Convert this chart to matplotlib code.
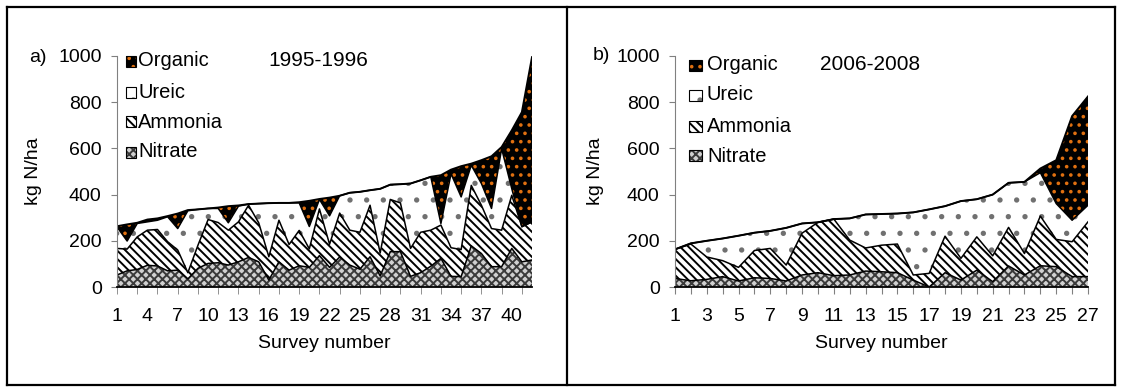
import numpy as np
import matplotlib.pyplot as plt
from matplotlib.patches import Rectangle
from matplotlib.lines import Line2D

plt.rcParams['font.family'] = ['Liberation Sans', 'DejaVu Sans']
plt.rcParams['hatch.linewidth'] = 1.4

W, H = 1122, 387

# panel a: 1995-1996, kg N/ha by nitrogen form, per survey
surveys_a = np.arange(1, 43)
nitrate_a = [52, 70, 76, 94, 91, 70, 73, 35, 81, 102, 105, 95, 109, 128, 109, 30, 109, 73, 92, 85, 136,
             85, 130, 95, 77, 131, 48, 153, 153, 46, 62, 90, 124, 46, 45, 178, 145, 88, 88, 167, 109, 117]
ammonia_a = [115, 94, 141, 152, 158, 126, 87, 27, 100, 190, 174, 151, 173, 226, 169, 101, 180, 111, 153, 80, 202,
             100, 190, 151, 160, 223, 99, 226, 211, 121, 175, 156, 144, 124, 117, 262, 209, 165, 158, 230, 152, 165]
ureic_a = [93, 35, 58, 36, 40, 108, 93, 268, 155, 48, 61, 32, 68, 5, 83, 232, 75, 180, 119, 97, 41,
           123, 75, 162, 175, 65, 278, 64, 81, 281, 225, 231, 7, 320, 228, 87, 94, 87, 353, 29, 0, 0]
organic_a = [3, 72, 3, 10, 8, 3, 65, 3, 0, 0, 4, 72, 3, 0, 0, 0, 0, 0, 3, 111, 2,
             79, 0, 0, 0, 0, 0, 0, 0, 0, 0, 0, 209, 18, 133, 7, 101, 226, 7, 252, 496, 713]

# panel b: 2006-2008
surveys_b = np.arange(1, 28)
nitrate_b = [37, 27, 33, 45, 26, 40, 37, 26, 52, 62, 49, 52, 69, 66, 62, 30, 0, 62, 30, 73, 23, 91, 52, 92, 88, 45, 45]
ammonia_b = [126, 159, 97, 69, 59, 118, 130, 69, 181, 218, 245, 151, 100, 115, 124, 22, 59, 158, 94, 144, 112, 167, 93, 215, 118, 151, 237]
ureic_b = [0, 3, 70, 96, 137, 77, 76, 161, 42, 0, 0, 94, 145, 135, 132, 271, 277, 130, 248, 163, 265, 193, 310, 188, 155, 93, 72]
organic_b = [0, 0, 0, 0, 0, 0, 0, 0, 0, 0, 0, 0, 0, 0, 0, 0, 0, 0, 0, 0, 0, 0, 0, 18, 188, 451, 471]

forms = ['Nitrate', 'Ammonia', 'Ureic', 'Organic']
# face, hatch, hatch colour
styles = {
    'Nitrate': ('#d0d0d0', 'xxxx', '#3a3a3a'),
    'Ammonia': ('white', '\\\\\\\\', 'black'),
    'Ureic': ('white', '.', '#707070'),
    'Organic': ('black', '..', '#e07010'),
}


def px(x, y):
    return x / W, 1 - y / H


def draw_panel(ax, x, layers):
    base = np.zeros(len(x))
    for name, vals in zip(forms, layers):
        top = base + np.asarray(vals, float)
        face, hatch, hc = styles[name]
        ax.fill_between(x, base, top, facecolor=face, hatch=hatch, edgecolor=hc, linewidth=0)
        ax.plot(x, top, color='black', lw=1.1 if name != 'Organic' else 1.4)
        base = top
    ax.set_xlim(x[0], x[-1])
    ax.set_ylim(0, 1000)
    ax.set_yticks(range(0, 1001, 200))
    for s in ['top', 'right']:
        ax.spines[s].set_visible(False)
    ax.spines['left'].set_color('#808080')
    ax.spines['bottom'].set_color('black')
    ax.spines['bottom'].set_linewidth(1.3)
    ax.tick_params(axis='y', direction='out', length=4, color='#808080', pad=7, labelsize=14)
    ax.set_ylabel('kg N/ha', fontsize=14)
    ax.set_xlabel('Survey number', fontsize=14, va='center')


fig = plt.figure(figsize=(W / 100, H / 100), dpi=100)

# panel a: tick marks every 2nd survey, labels every 3rd
ax_a = fig.add_axes([117 / W, 100 / H, 415 / W, 231 / H])
draw_panel(ax_a, surveys_a, [nitrate_a, ammonia_a, ureic_a, organic_a])
lab_a = list(range(1, 41, 3))
ax_a.set_xticks(lab_a)
ax_a.set_xticklabels([str(v) for v in lab_a])
ax_a.set_xticks(range(1, 43, 2), minor=True)
ax_a.xaxis.remove_overlapping_locs = False
ax_a.tick_params(axis='x', which='major', length=0, pad=15, labelsize=14)
ax_a.tick_params(axis='x', which='minor', direction='out', length=5, color='#808080')
ax_a.yaxis.set_label_coords((42 - 117) / 415, 0.5)
ax_a.xaxis.set_label_coords(0.5, -(343 - 287) / 231)

# panel b: tick marks every survey, labels every 2nd
ax_b = fig.add_axes([675 / W, 100 / H, 413 / W, 231 / H])
draw_panel(ax_b, surveys_b, [nitrate_b, ammonia_b, ureic_b, organic_b])
ax_b.set_xticks(surveys_b)
ax_b.set_xticklabels([str(v) if v % 2 == 1 else '' for v in surveys_b])
ax_b.tick_params(axis='x', direction='out', length=5, color='#808080', pad=10, labelsize=14)
ax_b.yaxis.set_label_coords((604 - 675) / 413, 0.5)
ax_b.xaxis.set_label_coords(0.5, -(343 - 287) / 231)

# panel letters and period titles
fig.text(*px(38, 57), 'a)', fontsize=14, ha='center', va='center')
fig.text(*px(601, 56), 'b)', fontsize=14, ha='center', va='center')
fig.text(*px(368, 60), '1995-1996', fontsize=15, ha='right', va='center')
fig.text(*px(820, 65), '2006-2008', fontsize=15, ha='left', va='center')


# legends drawn by hand, Organic on top
def legend(x0, ys, w, h, xt):
    for name, yc in zip(forms[::-1], ys):
        face, hatch, hc = styles[name]
        fig.add_artist(Rectangle(px(x0, yc + h / 2), w / W, h / H, facecolor=face, hatch=hatch,
                                 edgecolor=hc, linewidth=0, transform=fig.transFigure))
        fig.add_artist(Rectangle(px(x0, yc + h / 2), w / W, h / H, facecolor='none',
                                 edgecolor='black', linewidth=0.8, transform=fig.transFigure))
        fig.text(*px(xt, yc), name, fontsize=14.5, ha='left', va='center')


legend(126, [61, 92, 122, 152], 10, 11, 138)
legend(689, [65, 95, 126, 156], 13, 11, 707)

# outer frame and divider
frame_kw = dict(color='black', lw=1.6, transform=fig.transFigure)
for (x1, y1), (x2, y2) in [((7, 7), (1115, 7)), ((7, 385), (1115, 385)), ((7, 7), (7, 385)),
                           ((1115, 7), (1115, 385)), ((567, 7), (567, 385))]:
    fig.add_artist(Line2D([x1 / W, x2 / W], [1 - y1 / H, 1 - y2 / H], **frame_kw))

fig.savefig('out.png', dpi=100)
